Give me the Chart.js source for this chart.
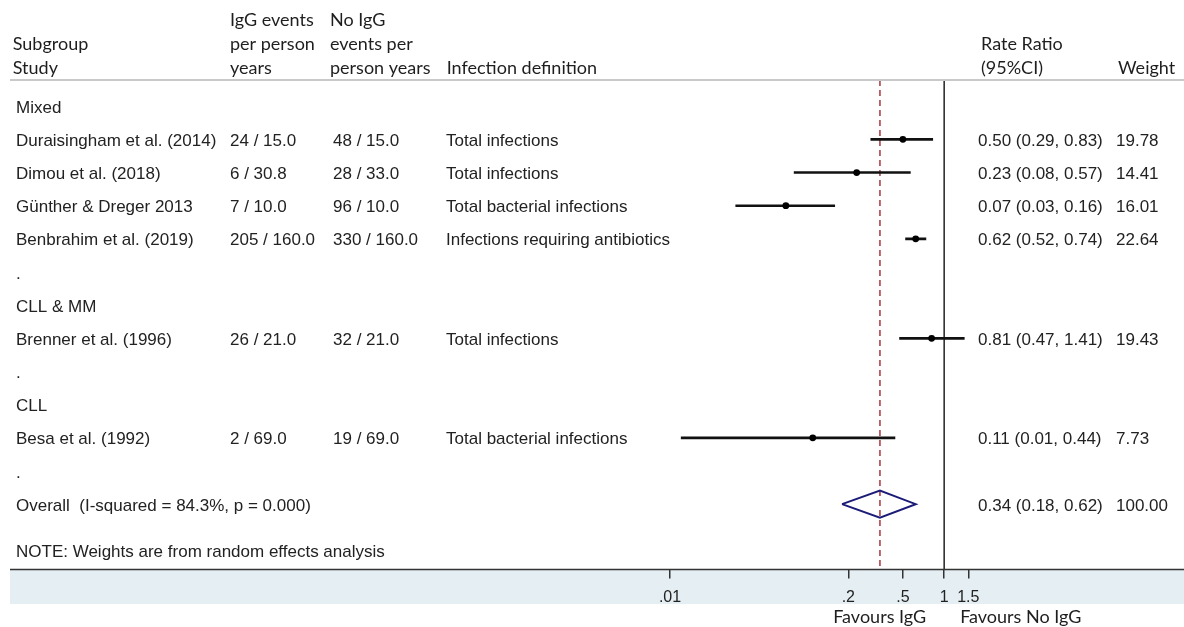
<!DOCTYPE html>
<html>
<head>
<meta charset="utf-8">
<script src="https://cdn.jsdelivr.net/npm/chart.js@4.4.0/dist/chart.umd.min.js"></script>
<style>
  html, body { margin: 0; padding: 0; background: #fff; }
  #wrap { width: 1184px; height: 627px; }
</style>
</head>
<body>
<div id="wrap"><canvas id="forest" width="1184" height="627"></canvas></div>
<script>
// Datos del forest plot
const studies = ['Duraisingham et al. (2014)', 'Dimou et al. (2018)', 'Günther & Dreger 2013',
  'Benbrahim et al. (2019)', 'Brenner et al. (1996)', 'Besa et al. (1992)'];
const iggEvents = ['24 / 15.0', '6 / 30.8', '7 / 10.0', '205 / 160.0', '26 / 21.0', '2 / 69.0'];
const noIggEvents = ['48 / 15.0', '28 / 33.0', '96 / 10.0', '330 / 160.0', '32 / 21.0', '19 / 69.0'];
const definitions = ['Total infections', 'Total infections', 'Total bacterial infections',
  'Infections requiring antibiotics', 'Total infections', 'Total bacterial infections'];
const rateRatio = [0.50, 0.23, 0.07, 0.62, 0.81, 0.11];
const ciLow = [0.29, 0.08, 0.03, 0.52, 0.47, 0.012];
const ciHigh = [0.83, 0.57, 0.16, 0.74, 1.41, 0.44];
const weights = [19.78, 14.41, 16.01, 22.64, 19.43, 7.73];
const studyRows = [2, 3, 4, 5, 8, 11];

// Filas de subgrupo y separadores
const labelRows = [1, 6, 7, 9, 10, 12];
const labelTexts = ['Mixed', '.', 'CLL & MM', '.', 'CLL', '.'];

// Estimación global
const overallRow = 13;
const overallText = 'Overall  (I-squared = 84.3%, p = 0.000)';
const overall = { rr: 0.34, low: 0.18, high: 0.62, weight: 100 };
const noteText = 'NOTE: Weights are from random effects analysis';

// Eje X
const tickValues = [0.01, 0.2, 0.5, 1, 1.5];
const tickLabels = ['.01', '.2', '.5', '1', '1.5'];

const Y_MIN = 0.21, Y_MAX = 14.97;
const rowFont = '17px "Liberation Sans", Arial, sans-serif';
const headFont = '18px Lato, sans-serif';
const fmt = v => v.toFixed(2);

// Segmentos de intervalos de confianza, uno por estudio
const ciSets = studies.map((s, i) => ({
  data: [{ x: ciLow[i], y: studyRows[i] }, { x: ciHigh[i], y: studyRows[i] }],
  showLine: true, borderColor: '#111', borderWidth: 2.6, pointRadius: 0, order: 1
}));

const diamond = [
  { x: overall.low, y: overallRow },
  { x: overall.rr, y: overallRow - 0.41 },
  { x: overall.high, y: overallRow },
  { x: overall.rr, y: overallRow + 0.41 },
  { x: overall.low, y: overallRow }
];

// Plugin que dibuja la tabla de texto, la banda inferior y las líneas
const tablePlugin = {
  id: 'forestTable',
  beforeDraw(chart) {
    const c = chart.ctx;
    const b = chart.chartArea.bottom;
    c.save();
    c.fillStyle = '#fff';
    c.fillRect(0, 0, chart.width, chart.height);
    c.fillStyle = '#e5eef2';
    c.fillRect(10, b, chart.width - 10, 604 - b);
    c.restore();
  },
  afterDraw(chart) {
    const c = chart.ctx;
    const y = chart.scales.y;
    const area = chart.chartArea;
    c.save();

    // líneas horizontales
    c.strokeStyle = '#c9c9c9';
    c.lineWidth = 2;
    c.beginPath(); c.moveTo(10, 80); c.lineTo(chart.width, 80); c.stroke();
    c.strokeStyle = '#333';
    c.lineWidth = 1.5;
    c.beginPath(); c.moveTo(10, area.bottom); c.lineTo(chart.width, area.bottom); c.stroke();

    // encabezados
    c.fillStyle = '#1e1e1e';
    c.font = headFont;
    c.textBaseline = 'alphabetic';
    c.textAlign = 'left';
    c.fillText('Subgroup', 12.7, 50);
    c.fillText('Study', 12.7, 74);
    c.fillText('IgG events', 230, 26);
    c.fillText('per person', 230, 50);
    c.fillText('years', 230, 74);
    c.fillText('No IgG', 330, 26);
    c.fillText('events per', 330, 50);
    c.fillText('person years', 330, 74);
    c.fillText('Infection definition', 446.7, 74);
    c.fillText('Rate Ratio', 981, 50);
    c.fillText('(95%CI)', 981, 74);
    c.fillText('Weight', 1118, 74);

    // filas
    c.font = rowFont;
    c.fillStyle = '#222';
    const off = 6.5;
    labelRows.forEach((r, i) => c.fillText(labelTexts[i], 16, y.getPixelForValue(r) + off));
    studies.forEach((s, i) => {
      const py = y.getPixelForValue(studyRows[i]) + off;
      c.fillText(s, 16, py);
      c.fillText(iggEvents[i], 230, py);
      c.fillText(noIggEvents[i], 333, py);
      c.fillText(definitions[i], 446, py);
      c.fillText(fmt(rateRatio[i]) + ' (' + fmt(ciLow[i]) + ', ' + fmt(ciHigh[i]) + ')', 978, py);
      c.fillText(fmt(weights[i]), 1116, py);
    });
    const oy = y.getPixelForValue(overallRow) + off;
    c.fillText(overallText, 16, oy);
    c.fillText(fmt(overall.rr) + ' (' + fmt(overall.low) + ', ' + fmt(overall.high) + ')', 978, oy);
    c.fillText(fmt(overall.weight), 1116, oy);
    c.fillText(noteText, 16, 557);

    // etiquetas de favorece
    const x1 = chart.scales.x.getPixelForValue(1);
    c.font = '18px Lato, sans-serif';
    c.fillStyle = '#1e1e1e';
    c.textAlign = 'right';
    c.fillText('Favours IgG', x1 - 18, 623);
    c.textAlign = 'left';
    c.fillText('Favours No IgG', x1 + 16, 623);
    c.restore();
  }
};

const chart = new Chart(document.getElementById('forest').getContext('2d'), {
  type: 'scatter',
  data: {
    datasets: [
      {
        data: rateRatio.map((v, i) => ({ x: v, y: studyRows[i] })),
        pointRadius: 3.4, pointBackgroundColor: '#000', pointBorderWidth: 0, order: 0
      },
      ...ciSets,
      {
        data: diamond, showLine: true, borderColor: '#1c1c78', borderWidth: 2,
        pointRadius: 0, order: 2
      },
      {
        data: [{ x: 1, y: Y_MIN }, { x: 1, y: Y_MAX }], showLine: true,
        borderColor: '#222', borderWidth: 1.5, pointRadius: 0, order: 3
      },
      {
        data: [{ x: overall.rr, y: Y_MIN }, { x: overall.rr, y: Y_MAX }], showLine: true,
        borderColor: '#b5585c', borderWidth: 1.8, borderDash: [6, 4], pointRadius: 0, order: 3
      }
    ]
  },
  options: {
    responsive: false,
    animation: false,
    events: [],
    layout: { padding: { left: 670, right: 215.7, top: 80, bottom: 17.5 } },
    plugins: { legend: { display: false }, tooltip: { enabled: false } },
    scales: {
      x: {
        type: 'logarithmic',
        min: 0.01,
        max: 1.5,
        afterBuildTicks: s => { s.ticks = tickValues.map(v => ({ value: v })); },
        afterFit: s => { s.height = 40; },
        border: { display: false },
        grid: { drawOnChartArea: false, drawTicks: true, tickLength: 9, color: '#333', lineWidth: 1.5 },
        ticks: {
          autoSkip: false, maxRotation: 0, padding: 9, color: '#222',
          font: { family: '"Liberation Sans", Arial, sans-serif', size: 16 },
          callback: (v, i) => tickLabels[i]
        }
      },
      y: { type: 'linear', display: false, reverse: true, min: Y_MIN, max: Y_MAX }
    }
  },
  plugins: [tablePlugin]
});
</script>
</body>
</html>
